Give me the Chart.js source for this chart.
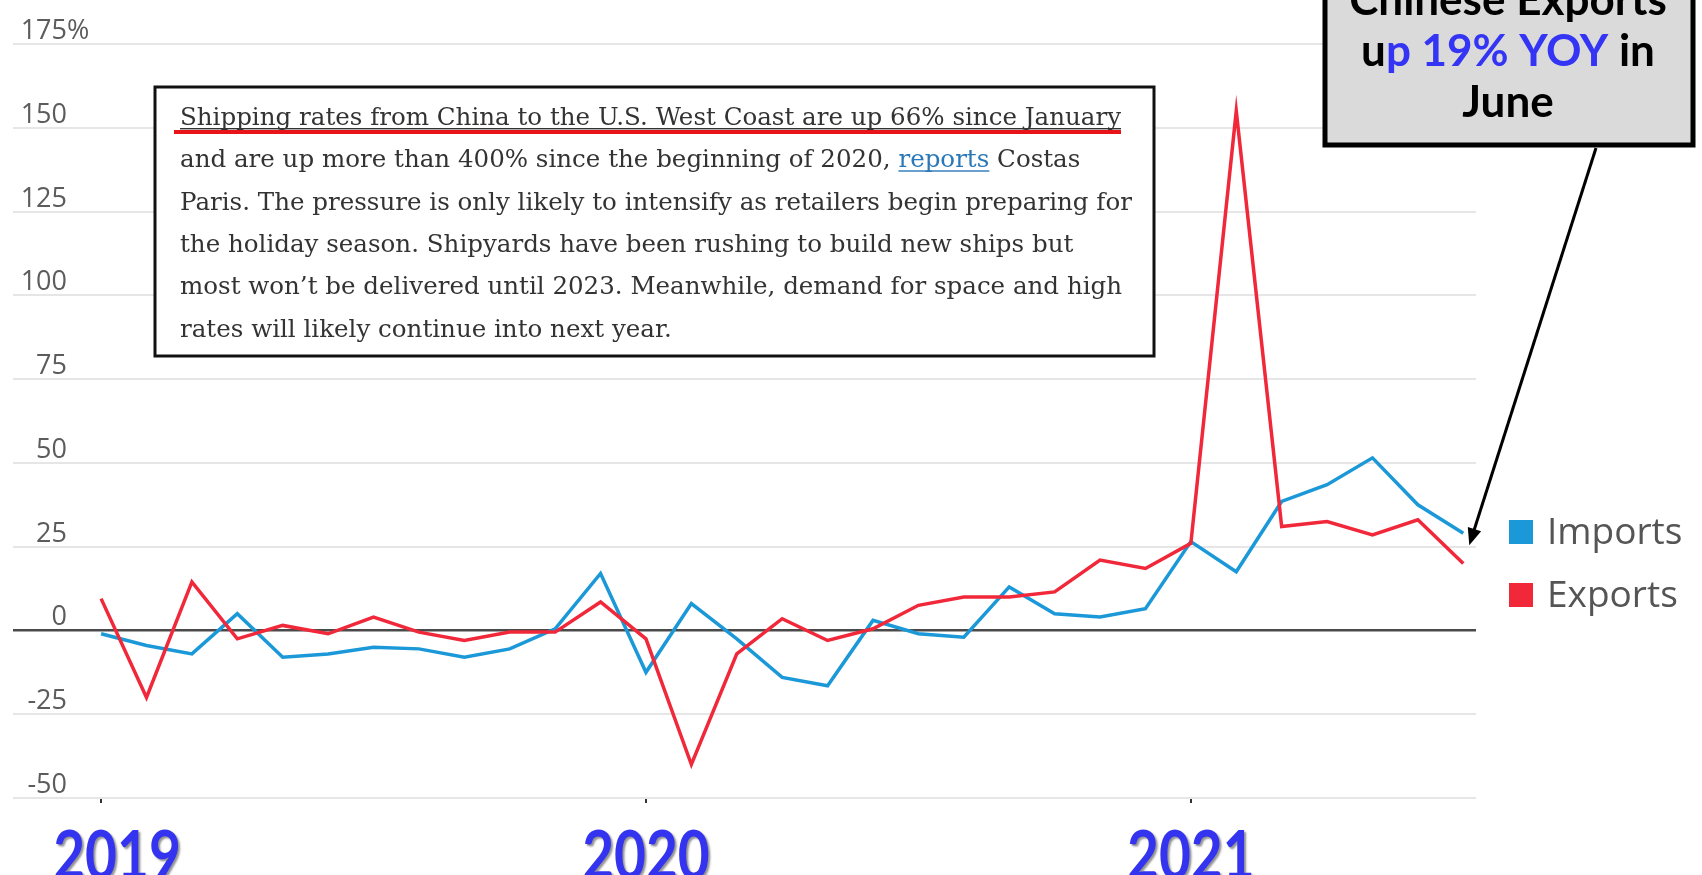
<!DOCTYPE html>
<html>
<head>
<meta charset="utf-8">
<script src="https://cdn.jsdelivr.net/npm/chart.js@4.4.1/dist/chart.umd.min.js"></script>
<style>
  html, body { margin: 0; padding: 0; background: #fff; }
  #wrap { width: 1702px; height: 875px; overflow: hidden; }
</style>
</head>
<body>
<div id="wrap"><canvas id="chart" width="1702" height="875"></canvas></div>
<script>
// monthly, Jan 2019 - Jul 2021 (x value = index of month)
const months = ["Jan 2019", "Feb 2019", "Mar 2019", "Apr 2019", "May 2019", "Jun 2019", "Jul 2019", "Aug 2019",
  "Sep 2019", "Oct 2019", "Nov 2019", "Dec 2019", "Jan 2020", "Feb 2020", "Mar 2020", "Apr 2020", "May 2020",
  "Jun 2020", "Jul 2020", "Aug 2020", "Sep 2020", "Oct 2020", "Nov 2020", "Dec 2020", "Jan 2021", "Feb 2021",
  "Mar 2021", "Apr 2021", "May 2021", "Jun 2021", "Jul 2021"];
const imports = [-1, -4.5, -7, 5, -8, -7, -5, -5.5, -8, -5.5, 0.5, 17, -12.5, 8, -2.5, -14, -16.5, 3, -1, -2,
  13, 5, 4, 6.5, 26.5, 17.5, 38.5, 43.5, 51.5, 37.5, 29];
const exports = [9.5, -20, 14.5, -2.5, 1.5, -1, 4, -0.5, -3, -0.5, -0.5, 8.5, -2.5, -40, -7, 3.5, -3, 0.5, 7.5, 10,
  10, 11.5, 21, 18.5, 26, 155, 31, 32.5, 28.5, 33, 20];
const yearLabels = ["2019", "2020", "2021"];
const yearTicks = [0, 12, 24];

const noteLines = [
  "Shipping rates from China to the U.S. West Coast are up 66% since January",
  "and are up more than 400% since the beginning of 2020, reports Costas",
  "Paris. The pressure is only likely to intensify as retailers begin preparing for",
  "the holiday season. Shipyards have been rushing to build new ships but",
  "most won\u2019t be delivered until 2023. Meanwhile, demand for space and high",
  "rates will likely continue into next year."
];
const linkWord = "reports";
const calloutLines = ["Chinese Exports", "up 19% YOY in", "June"];
const calloutBlue = "p 19% YOY";

const blue = "#1b98d8";
const red = "#f0283a";

const overlay = {
  id: "overlay",
  afterDraw(chart) {
    const ctx = chart.ctx;
    const xs = chart.scales.x, ys = chart.scales.y;
    ctx.save();

    // y labels sit above their grid line
    ctx.font = '27px "Open Sans"';
    ctx.fillStyle = "#5c5c5c";
    ctx.textBaseline = "alphabetic";
    ys.ticks.forEach(t => {
      const py = ys.getPixelForValue(t.value);
      ctx.textAlign = "right";
      ctx.fillText(String(t.value), 67, py - 5);
      if (t.value === ys.max) {
        ctx.textAlign = "left";
        ctx.fillText("%", 67, py - 5);
      }
    });

    // year labels
    ctx.save();
    ctx.font = "bold 55px Lato";
    ctx.fillStyle = "#3434f0";
    ctx.shadowColor = "rgba(40,40,40,0.5)";
    ctx.shadowOffsetX = 2;
    ctx.shadowOffsetY = 2;
    ctx.shadowBlur = 2;
    ctx.textAlign = "center";
    yearTicks.forEach((v, i) => {
      ctx.save();
      ctx.translate(Math.max(xs.getPixelForValue(v), 117), 879);
      ctx.scale(1, 1.2);
      ctx.fillText(yearLabels[i], 0, 0);
      ctx.restore();
    });
    ctx.restore();

    // legend
    chart.data.datasets.forEach((ds, i) => {
      const cy = 532 + i * 63;
      ctx.fillStyle = ds.borderColor;
      ctx.fillRect(1509, cy - 12, 24, 24);
      ctx.fillStyle = "#555";
      ctx.font = '37px "Open Sans"';
      ctx.textAlign = "left";
      ctx.textBaseline = "middle";
      ctx.fillText(ds.label, 1547, cy + 1);
    });

    // quote box
    ctx.fillStyle = "#fff";
    ctx.fillRect(155, 87, 999, 269);
    ctx.lineWidth = 3;
    ctx.strokeStyle = "#111";
    ctx.strokeRect(155, 87, 999, 269);
    ctx.font = '24px "DejaVu Serif"';
    ctx.textBaseline = "alphabetic";
    ctx.textAlign = "left";
    const sx = 941 / ctx.measureText(noteLines[0]).width;
    noteLines.forEach((ln, i) => {
      const by = 125 + i * 42.3;
      ctx.save();
      ctx.translate(180, by);
      ctx.scale(sx, 1);
      const k = ln.indexOf(linkWord);
      const parts = k < 0 ? [[ln, false]] :
        [[ln.slice(0, k), false], [linkWord, true], [ln.slice(k + linkWord.length), false]];
      let x = 0;
      parts.forEach(([t, link]) => {
        const w = ctx.measureText(t).width;
        ctx.fillStyle = link ? "#2a78b8" : "#333";
        ctx.fillText(t, x, 0);
        if (link || i === 0) {
          ctx.fillRect(x, 3, w, 1.4);
        }
        x += w;
      });
      ctx.restore();
    });
    ctx.fillStyle = "#e8141c";
    ctx.fillRect(174, 130, 947, 4);

    // callout box
    ctx.fillStyle = "#dadada";
    ctx.fillRect(1325, -10, 368, 155);
    ctx.lineWidth = 5;
    ctx.strokeStyle = "#000";
    ctx.strokeRect(1325, -10, 368, 155);
    ctx.font = "bold 44px Lato";
    ctx.textBaseline = "alphabetic";
    calloutLines.forEach((ln, i) => {
      const by = 15 + i * 51;
      const k = ln.indexOf(calloutBlue);
      const parts = k < 0 ? [[ln, "#000"]] :
        [[ln.slice(0, k), "#000"], [calloutBlue, "#3434f5"], [ln.slice(k + calloutBlue.length), "#000"]];
      const total = ctx.measureText(ln).width;
      let x = 1508 - total / 2;
      ctx.textAlign = "left";
      parts.forEach(([t, c]) => {
        ctx.fillStyle = c;
        ctx.fillText(t, x, by);
        x += ctx.measureText(t).width;
      });
    });

    // arrow to the June import value
    const last = imports.length - 1;
    const tx = xs.getPixelForValue(last) + 6, ty = ys.getPixelForValue(imports[last]) + 12;
    const fx = 1596, fy = 148;
    const ang = Math.atan2(ty - fy, tx - fx);
    ctx.strokeStyle = "#000";
    ctx.lineWidth = 3;
    ctx.beginPath();
    ctx.moveTo(fx, fy);
    ctx.lineTo(tx - 12 * Math.cos(ang), ty - 12 * Math.sin(ang));
    ctx.stroke();
    ctx.fillStyle = "#000";
    ctx.beginPath();
    ctx.moveTo(tx, ty);
    ctx.lineTo(tx - 17 * Math.cos(ang) + 7 * Math.sin(ang), ty - 17 * Math.sin(ang) - 7 * Math.cos(ang));
    ctx.lineTo(tx - 17 * Math.cos(ang) - 7 * Math.sin(ang), ty - 17 * Math.sin(ang) + 7 * Math.cos(ang));
    ctx.closePath();
    ctx.fill();

    ctx.restore();
  }
};

const toPoints = arr => arr.map((v, i) => ({ x: i, y: v }));

new Chart(document.getElementById("chart"), {
  type: "line",
  data: {
    labels: months,
    datasets: [
      {
        label: "Imports",
        data: toPoints(imports),
        borderColor: blue,
        backgroundColor: blue,
        borderWidth: 3.5,
        pointRadius: 0,
        tension: 0,
        order: 1
      },
      {
        label: "Exports",
        data: toPoints(exports),
        borderColor: red,
        backgroundColor: red,
        borderWidth: 3.5,
        pointRadius: 0,
        tension: 0,
        order: 0
      }
    ]
  },
  options: {
    responsive: false,
    animation: false,
    layout: { padding: { left: 13, right: 226, top: 44, bottom: 72 } },
    plugins: {
      legend: { display: false },
      tooltip: { enabled: false }
    },
    scales: {
      x: {
        type: "linear",
        min: -1.94,
        max: 30.28,
        afterBuildTicks: scale => {
          scale.ticks = yearTicks.map(v => ({ value: v }));
        },
        ticks: { display: false },
        grid: { drawOnChartArea: false, drawTicks: true, tickLength: 5, color: "#333", lineWidth: 2 },
        border: { display: false }
      },
      y: {
        min: -50,
        max: 175,
        ticks: { display: false, stepSize: 25 },
        grid: {
          drawTicks: false,
          color: c => c.tick.value === 0 ? "#4a4a4a" : "#e6e6e6",
          lineWidth: c => c.tick.value === 0 ? 2.5 : 2
        },
        border: { display: false }
      }
    }
  },
  plugins: [overlay]
});
</script>
</body>
</html>
